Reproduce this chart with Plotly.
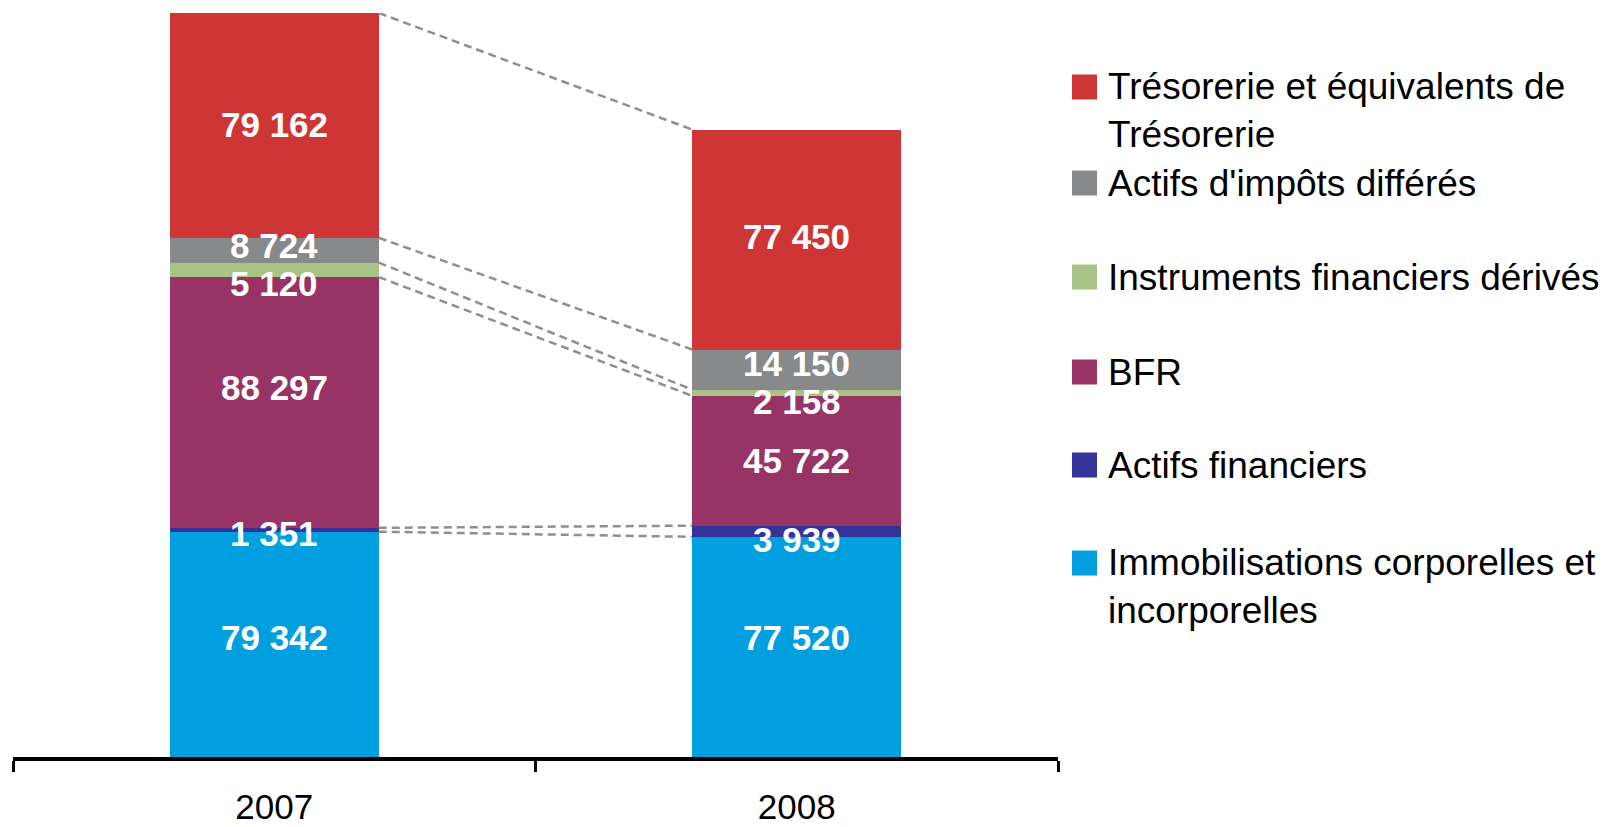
import plotly.graph_objects as go

# ---- data ----
years = ["2007", "2008"]
immobilisations = [79342, 77520]
actifs_financiers = [1351, 3939]
bfr = [88297, 45722]
instruments = [5120, 2158]
impots_differes = [8724, 14150]
tresorerie = [79162, 77450]

series_names = [
    "Immobilisations corporelles et<br>incorporelles",
    "Actifs financiers",
    "BFR",
    "Instruments financiers dérivés",
    "Actifs d'impôts différés",
    "Trésorerie et équivalents de<br>Trésorerie",
]
series_values = [immobilisations, actifs_financiers, bfr, instruments, impots_differes, tresorerie]
colors = ["#009FDF", "#333399", "#973365", "#A8C385", "#88898B", "#CE3636"]

# small vertical nudges (px, positive = down) for the value labels, per series per year
label_nudge = [[-7, -9], [4, 8], [-15, 0], [14, 9], [-5, -6], [-1, -3]]

# ---- layout geometry (pixels) ----
W, H = 1611, 827
L, T = 13, 13
PW, PH = 1045, 744
R, B = W - L - PW, H - T - PH

def px_x(px):
    return (px - L) / PW

def px_y(py):
    return (T + PH - py) / PH

font_family = "Arial, Liberation Sans, sans-serif"

fig = go.Figure()
for name, vals, col in zip(series_names, series_values, colors):
    fig.add_trace(go.Bar(x=years, y=vals, name=name, marker=dict(color=col, line=dict(width=0)),
                         width=0.4, showlegend=False, hoverinfo="x+y"))

totals = [sum(v[i] for v in series_values) for i in range(len(years))]

# value labels at segment centres
for i, yr in enumerate(years):
    base = 0
    for s, vals in enumerate(series_values):
        v = vals[i]
        fig.add_annotation(x=i, y=base + v / 2, xref="x", yref="y",
                           text=f"{v:,}".replace(",", " "), showarrow=False,
                           yshift=-label_nudge[s][i],
                           font=dict(family=font_family, size=35, color="white", weight="bold"))
        base += v

# dashed connectors between cumulative boundaries
cum07, cum08 = 0, 0
for vals in series_values:
    cum07 += vals[0]
    cum08 += vals[1]
    fig.add_shape(type="line", xref="x", yref="y", x0=0.2, x1=0.8, y0=cum07, y1=cum08,
                  line=dict(color="#8F8F8F", width=2.5, dash="8px,5px"))

# custom legend (squares + text)
legend_centers = [563, 465, 372, 277, 183, 87]  # y centre of each square, bottom series first
line_h = 47
for name, col, cy in zip(series_names, colors, legend_centers):
    fig.add_shape(type="rect", xref="paper", yref="paper",
                  x0=px_x(1072), x1=px_x(1097), y0=px_y(cy + 12.5), y1=px_y(cy - 12.5),
                  fillcolor=col, line=dict(width=0))
    nlines = name.count("<br>") + 1
    fig.add_annotation(x=px_x(1106), y=px_y(cy + (nlines - 1) * line_h / 2), xref="paper", yref="paper",
                       text=name, showarrow=False, xanchor="left", yanchor="middle", align="left",
                       font=dict(family=font_family, size=37, color="black"))

fig.update_layout(
    width=W, height=H, autosize=False,
    margin=dict(l=L, r=R, t=T, b=B, pad=0, autoexpand=False),
    barmode="stack",
    plot_bgcolor="white", paper_bgcolor="white",
    font=dict(family=font_family),
    xaxis=dict(type="category", range=[-0.5, 1.5], showline=True, linecolor="black", linewidth=3.5,
               ticks="outside", tickson="boundaries", ticklen=11, tickwidth=3, tickcolor="black",
               showgrid=False, zeroline=False, ticklabelstandoff=16, automargin=False,
               tickfont=dict(family=font_family, size=35, color="black")),
    yaxis=dict(visible=False, range=[0, totals[0]], showgrid=False, zeroline=False, automargin=False),
)

fig.write_html("out.html", config={"displayModeBar": False},
               post_script="document.body.style.margin='0';document.body.style.overflow='hidden';")
